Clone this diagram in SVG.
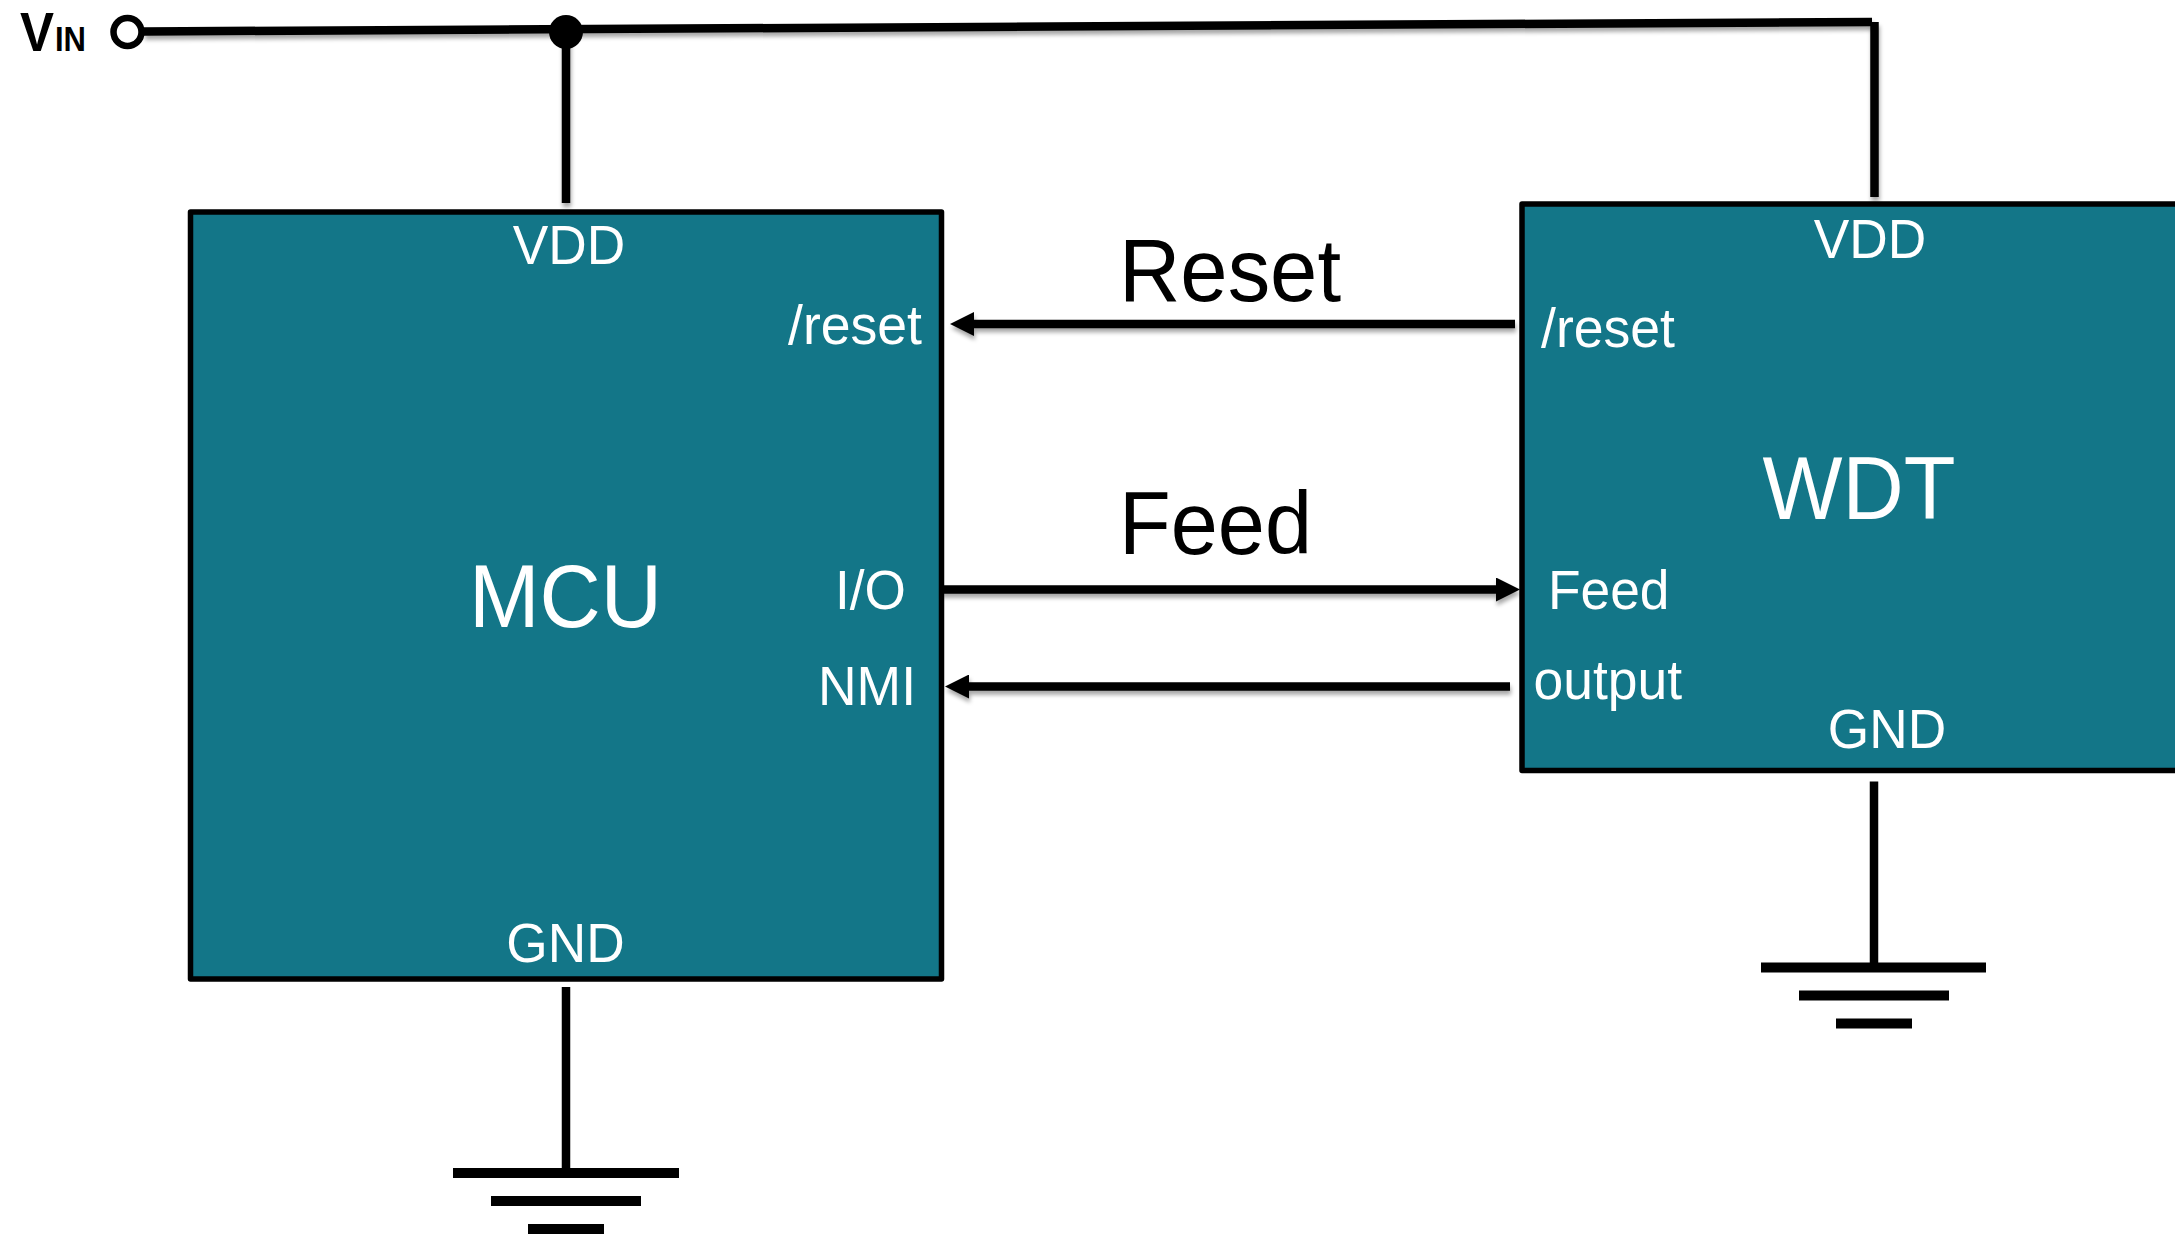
<svg xmlns="http://www.w3.org/2000/svg" width="2175" height="1235" viewBox="0 0 2175 1235">
<style>
text{font-family:"Liberation Sans",Arial,sans-serif}
.box{fill:#137688;stroke:#000;stroke-width:5.5;stroke-linejoin:round}
.pin{font-size:56px;fill:#fff}
.big{font-size:89px;fill:#fff;text-anchor:middle}
.lbl{font-size:89px;fill:#000}
.mid{text-anchor:middle}
.w{fill:none;stroke:#000;stroke-width:8.5}
.g{fill:#000}
</style>
<defs>
<filter id="shu" filterUnits="userSpaceOnUse" x="0" y="0" width="2175" height="1235"><feDropShadow dx="1" dy="4" stdDeviation="2" flood-color="#000" flood-opacity="0.35"/></filter>
<marker id="ah" markerUnits="userSpaceOnUse" markerWidth="24" markerHeight="24" refX="12" refY="12" orient="auto"><path d="M0 0L24 12L0 24Z" fill="#000"/></marker>
</defs>
<rect width="2175" height="1235" fill="#fff"/>
<g id="mcu">
<rect class="box" x="190.5" y="212" width="751" height="767"/>
<text class="big" x="565.5" y="627" textLength="193" lengthAdjust="spacingAndGlyphs">MCU</text>
<text class="pin mid" x="569" y="264" textLength="112.5" lengthAdjust="spacingAndGlyphs">VDD</text>
<text class="pin" x="788" y="344" textLength="134" lengthAdjust="spacingAndGlyphs">/reset</text>
<text class="pin" x="835" y="609" textLength="71" lengthAdjust="spacingAndGlyphs">I/O</text>
<text class="pin" x="818" y="705" textLength="98" lengthAdjust="spacingAndGlyphs">NMI</text>
<text class="pin mid" x="565.5" y="962" textLength="118.4" lengthAdjust="spacingAndGlyphs">GND</text>
</g>
<g id="wdt">
<rect class="box" x="1522" y="204" width="700" height="566.5"/>
<text class="big" x="1859" y="519" textLength="193" lengthAdjust="spacingAndGlyphs">WDT</text>
<text class="pin mid" x="1870" y="258" textLength="112.5" lengthAdjust="spacingAndGlyphs">VDD</text>
<text class="pin" x="1541" y="347" textLength="134" lengthAdjust="spacingAndGlyphs">/reset</text>
<text class="pin" x="1548" y="609" textLength="121.5" lengthAdjust="spacingAndGlyphs">Feed</text>
<text class="pin" x="1533.5" y="699" textLength="148.5" lengthAdjust="spacingAndGlyphs">output</text>
<text class="pin mid" x="1887" y="748" textLength="118.4" lengthAdjust="spacingAndGlyphs">GND</text>
</g>
<g id="vin">
<text x="20" y="51" font-weight="700" font-size="55" fill="#000" textLength="34" lengthAdjust="spacingAndGlyphs">V</text>
<text x="55" y="51" font-weight="700" font-size="35" fill="#000" textLength="31" lengthAdjust="spacingAndGlyphs">IN</text>
</g>
<g id="connectors">
<path class="w" filter="url(#shu)" d="M144 31.5L1872 22"/>
<path class="w" filter="url(#shu)" d="M1874.5 22V197"/>
<path class="w" filter="url(#shu)" d="M566 32V203"/>
<path class="w" filter="url(#shu)" d="M1515 324H962" marker-end="url(#ah)"/>
<path class="w" filter="url(#shu)" d="M941 589.5H1508" marker-end="url(#ah)"/>
<path class="w" filter="url(#shu)" d="M1510 686.5H957" marker-end="url(#ah)"/>
<path class="w" d="M566 987V1170"/>
<path class="w" d="M1874 781.5V964"/>
</g>
<g id="vin-terminal"><circle cx="127.5" cy="32" r="14" fill="#fff" stroke="#000" stroke-width="6.5"/></g>
<g id="junction"><circle class="g" cx="566" cy="32" r="17"/></g>
<g id="gnd-mcu">
<rect class="g" x="453" y="1168" width="226" height="10"/>
<rect class="g" x="491" y="1196" width="150" height="10"/>
<rect class="g" x="528" y="1224" width="76" height="10"/>
</g>
<g id="gnd-wdt">
<rect class="g" x="1761" y="962.5" width="225" height="10"/>
<rect class="g" x="1799" y="990.5" width="150" height="10"/>
<rect class="g" x="1836" y="1018.5" width="76" height="10"/>
</g>
<g id="signal-labels">
<text class="lbl" x="1119" y="301" textLength="222" lengthAdjust="spacingAndGlyphs">Reset</text>
<text class="lbl" x="1119" y="554" textLength="193" lengthAdjust="spacingAndGlyphs">Feed</text>
</g>
</svg>
